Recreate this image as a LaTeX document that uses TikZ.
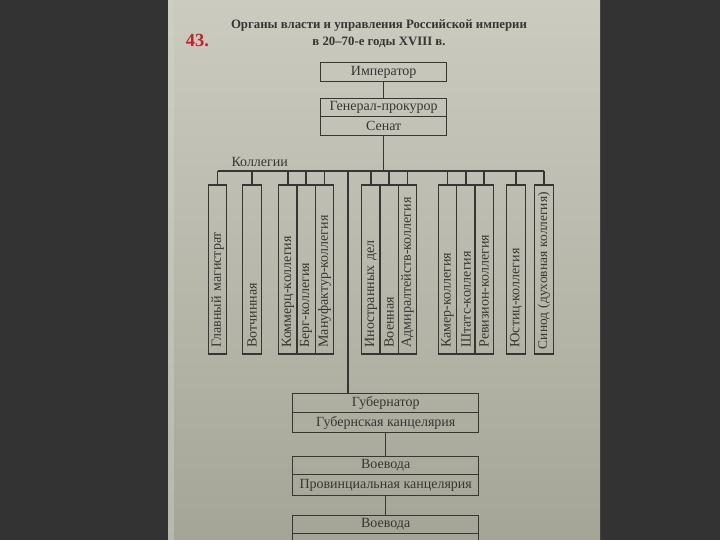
\documentclass[tikz,border=0pt]{standalone}
\usepackage{fontspec}
\setmainfont{Liberation Serif}
\definecolor{bgdark}{HTML}{333333}
\definecolor{pagetop}{HTML}{CBCBC0}
\definecolor{pagebot}{HTML}{A5A597}
\definecolor{pageedge}{HTML}{D3D6CB}
\definecolor{ink}{HTML}{363634}
\definecolor{rednum}{HTML}{C4202E}
\begin{document}
\begin{tikzpicture}[x=1pt,y=-1pt,
  txt/.style={font=\fontsize{14}{16}\selectfont, text=ink},
  box/.style={txt, draw=ink, line width=1.4pt, inner sep=0pt, anchor=north west, minimum width=126pt},
  colbox/.style={txt, draw=ink, line width=1.4pt, rotate=90, minimum width=169pt,
     text width=156pt, inner xsep=6.5pt, inner ysep=0pt, minimum height=18.5pt, align=left},
  conn/.style={draw=ink, line width=1.3pt}]
\useasboundingbox (0,0) rectangle (720,540);
\fill[bgdark] (0,0) rectangle (720,540);
\shade[top color=pagetop, bottom color=pagebot] (168,0) rectangle (600,540);
\fill[pageedge, opacity=0.4] (168,0) rectangle (174,540);

\node[font=\bfseries\fontsize{18.5}{20}\selectfont, text=rednum] (num) at (197.5,41) {43.};
\node[font=\bfseries\fontsize{12.8}{17}\selectfont, text=ink, align=center] (title) at (379,34)
  {Органы власти и управления Российской империи\\в 20--70-е годы XVIII в.};

\node[box, minimum height=19pt] (imp) at (320,62) {Император};
\node[box, minimum height=18pt] (gp) at (320,98) {Генерал-прокурор};
\node[box, minimum height=19pt] (sen) at (320,116) {Сенат};
\draw[conn] (imp.south) -- (gp.north);

\node[txt, anchor=west] (kol) at (228,162) {Коллегии};
\coordinate (hl) at (0,171);
\coordinate (trunk) at (348,171);

\node[colbox] (c1) at (217.5,269.5) {Главный магистрат};
\node[colbox] (c2) at (252,269.5) {Вотчинная};
\node[colbox] (c3) at (288,269.5) {Коммерц-коллегия};
\node[colbox] (c4) at (306,269.5) {Берг-коллегия};
\node[colbox] (c5) at (324.5,269.5) {Мануфактур-коллегия};
\node[colbox] (c6) at (371,269.5) {Иностранных дел};
\node[colbox] (c7) at (389,269.5) {Военная};
\node[colbox] (c8) at (407.5,269.5) {Адмиралтейств-коллегия};
\node[colbox] (c9) at (447.5,269.5) {Камер-коллегия};
\node[colbox] (c10) at (466,269.5) {Штатс-коллегия};
\node[colbox] (c11) at (484,269.5) {Ревизион-коллегия};
\node[colbox] (c12) at (516,269.5) {Юстиц-коллегия};
\node[colbox, font=\fontsize{13.4}{15}\selectfont, inner xsep=5pt, text width=159pt] (c13) at (544,269.5) {Синод (духовная коллегия)};

\draw[conn] (sen.south) -- (sen.south |- hl);
\draw[conn] (c1.east |- hl) -- (c13.east |- hl);
\foreach \c in {c1,c2,c3,c4,c5,c6,c7,c8,c9,c10,c11,c12,c13}
  \draw[conn] (\c.east) -- (\c.east |- hl);

\node[box, minimum width=186pt, minimum height=19pt] (gub) at (292,393) {Губернатор};
\node[box, minimum width=186pt, minimum height=20pt] (gubk) at (292,412) {Губернская канцелярия};
\node[box, minimum width=186pt, minimum height=18pt] (voev) at (292,456) {Воевода};
\node[box, minimum width=186pt, minimum height=21pt] (provk) at (292,474) {Провинциальная канцелярия};
\node[box, minimum width=186pt, minimum height=18pt] (voev2) at (292,515) {Воевода};
\node[box, minimum width=186pt, minimum height=20pt] (last) at (292,533) {};

\draw[conn] (trunk) -- (trunk |- gub.north);
\draw[conn] (gubk.south) -- (voev.north);
\draw[conn] (provk.south) -- (voev2.north);
\end{tikzpicture}
\end{document}
